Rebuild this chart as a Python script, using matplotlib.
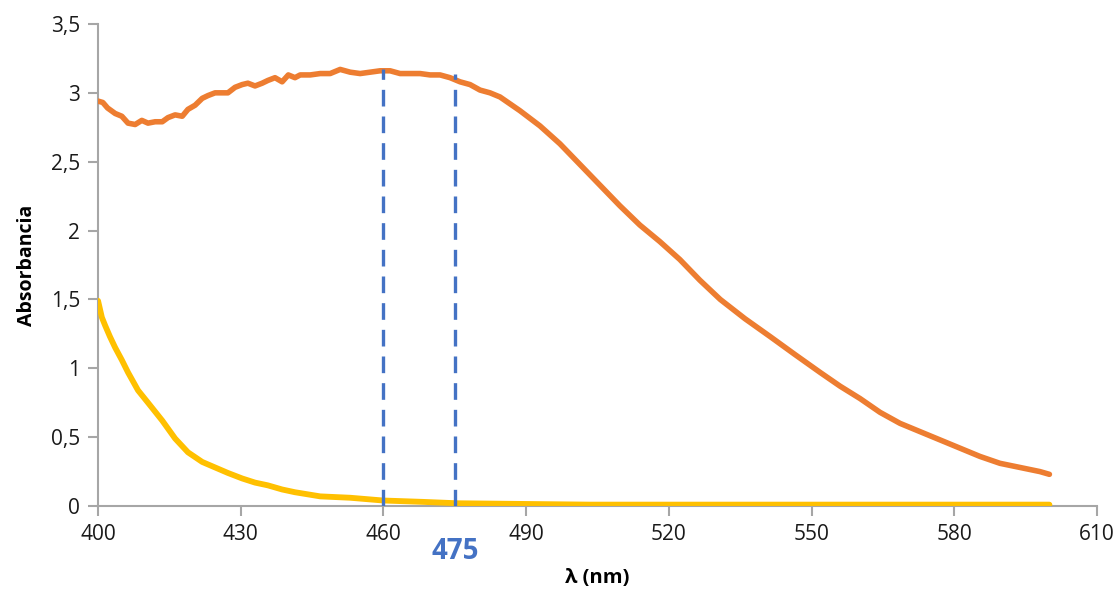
import matplotlib.pyplot as plt
from matplotlib.ticker import FuncFormatter
from matplotlib.transforms import blended_transform_factory

# orange sample
orange_nm = [400, 401, 402, 403.6, 405, 406.3, 407.8, 409.2, 410.5, 412, 413.5, 414.7,
             416.2, 417.7, 418.9, 420.4, 421.9, 423.1, 424.6, 426.1, 427.3, 428.8, 430.3,
             431.5, 433, 434.5, 435.7, 437.2, 438.7, 440, 441.4, 442.5, 444.6, 446.7,
             448.8, 450.9, 453, 455.1, 457.2, 459.3, 461.4, 463.5, 465.6, 467.7, 469.8,
             471.9, 474, 476.1, 478.2, 480.3, 482.4, 484.5, 488.7, 492.9, 497.1, 501.3,
             505.5, 509.7, 513.9, 518.1, 522.3, 526.5, 530.8, 536, 541.3, 546.5, 551.8,
             556, 560.2, 564.4, 568.6, 572.8, 577, 581.2, 585.4, 589.6, 593.8, 598, 600]
orange_abs = [2.94, 2.93, 2.89, 2.85, 2.83, 2.78, 2.77, 2.80, 2.78, 2.79, 2.79, 2.82,
              2.84, 2.83, 2.88, 2.91, 2.96, 2.98, 3.00, 3.00, 3.00, 3.04, 3.06,
              3.07, 3.05, 3.07, 3.09, 3.11, 3.08, 3.13, 3.11, 3.13, 3.13, 3.14,
              3.14, 3.17, 3.15, 3.14, 3.15, 3.16, 3.16, 3.14, 3.14, 3.14, 3.13,
              3.13, 3.11, 3.08, 3.06, 3.02, 3.00, 2.97, 2.87, 2.76, 2.63, 2.48,
              2.33, 2.18, 2.04, 1.92, 1.79, 1.64, 1.50, 1.36, 1.23, 1.10, 0.97,
              0.87, 0.78, 0.68, 0.60, 0.54, 0.48, 0.42, 0.36, 0.31, 0.28, 0.25, 0.23]

# yellow sample
yellow_nm = [400, 400.8, 401.5, 402.5, 403.6, 405, 406.3, 408.4, 410.5, 413.5, 416.2,
             418.9, 421.9, 424.6, 427.3, 430.3, 433, 435.7, 438.7, 441.4, 446.7, 453,
             459.9, 468.3, 475.5, 489.3, 503.4, 530, 560, 600]
yellow_abs = [1.49, 1.37, 1.31, 1.23, 1.15, 1.06, 0.97, 0.84, 0.75, 0.62, 0.49,
              0.39, 0.32, 0.28, 0.24, 0.20, 0.17, 0.15, 0.12, 0.10, 0.07, 0.06,
              0.04, 0.03, 0.02, 0.015, 0.01, 0.01, 0.01, 0.01]

vline_nm = [460, 475]
vline_top = [3.17, 3.14]

fig = plt.figure(figsize=(11.18, 5.89), dpi=100)
ax = fig.add_axes([0.0877, 0.1409, 0.8935, 0.8184])

ax.plot(orange_nm, orange_abs, color='#ED7D31', lw=4, solid_capstyle='round',
        solid_joinstyle='round', zorder=3)
ax.plot(yellow_nm, yellow_abs, color='#FFC000', lw=4.2, solid_capstyle='round',
        solid_joinstyle='round', zorder=3)

for x, top in zip(vline_nm, vline_top):
    ax.plot([x, x], [0, top], color='#4472C4', lw=2.4, dashes=(5, 3), zorder=4)

ax.set_xlim(400, 610)
ax.set_ylim(0, 3.5)
ax.set_xticks(range(400, 611, 30))
ax.set_yticks([0, 0.5, 1, 1.5, 2, 2.5, 3, 3.5])
ax.yaxis.set_major_formatter(FuncFormatter(lambda v, p: ('%g' % v).replace('.', ',')))

for s in ['top', 'right']:
    ax.spines[s].set_visible(False)
for s in ['left', 'bottom']:
    ax.spines[s].set_color('#A6A6A6')
    ax.spines[s].set_linewidth(1.5)
ax.tick_params(direction='out', length=7, width=1.5, color='#A6A6A6',
               labelsize=15, labelcolor='#1a1a1a', pad=6)
for lab in ax.get_xticklabels() + ax.get_yticklabels():
    lab.set_family('Open Sans')

ax.set_xlabel('λ (nm)', fontsize=14.5, fontweight='bold', family='Open Sans')
ax.xaxis.set_label_coords(0.5, -0.15)
ax.xaxis.label.set_va('center')
ax.set_ylabel('Absorbancia', fontsize=14, fontweight='bold', family='Open Sans', labelpad=10)

tr = blended_transform_factory(ax.transData, ax.transAxes)
ax.text(475, -0.095, '475', transform=tr, color='#4472C4', fontsize=20,
        fontweight='bold', family='Open Sans', ha='center', va='center')

fig.savefig('out.png', dpi=100)
